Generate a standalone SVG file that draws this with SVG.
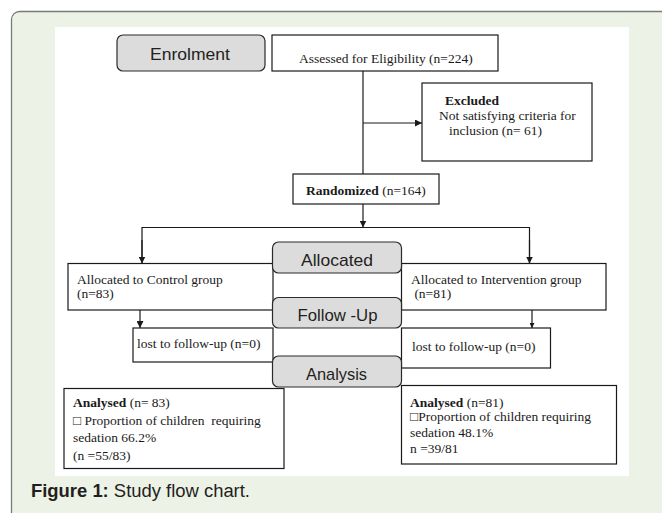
<svg xmlns="http://www.w3.org/2000/svg" width="662" height="513" viewBox="0 0 662 513">
<defs>
<marker id="ah" viewBox="0 0 10 10" refX="10" refY="5" markerWidth="7" markerHeight="7" markerUnits="userSpaceOnUse" orient="auto">
<path d="M0,0 L10,5 L0,10 Z" fill="#1a1a1a"/>
</marker>
<marker id="ahs" viewBox="0 0 10 10" refX="10" refY="5" markerWidth="5" markerHeight="5" markerUnits="userSpaceOnUse" orient="auto">
<path d="M0,0 L10,5 L0,10 Z" fill="#1a1a1a"/>
</marker>
<style>
.box{fill:#ffffff;stroke:#1a1a1a;stroke-width:1.2}
.stage{fill:#dcdcdc;stroke:#2a2a2a;stroke-width:1.2}
.t{font-family:"Liberation Serif","Times New Roman",serif;font-size:13.5px;fill:#1a1a1a;white-space:pre}
.b{font-weight:bold}
.s{font-family:"Liberation Sans",Arial,sans-serif;font-size:17px;fill:#231f20;text-anchor:middle}
.ln{fill:none;stroke:#1a1a1a;stroke-width:1.2}
.cap{font-family:"Liberation Sans",Arial,sans-serif;font-size:18px;fill:#231f20}
</style>
</defs>
<rect x="11.5" y="11.5" width="700" height="560" rx="8" fill="#edf2e7" stroke="#7a7a7a" stroke-width="1.3"/>
<rect x="55" y="27" width="574" height="449" fill="#ffffff"/>

<g id="connectors">
<line class="ln" x1="363" y1="71" x2="363" y2="174"/>
<line class="ln" x1="363" y1="123" x2="422" y2="123" marker-end="url(#ah)"/>
<line class="ln" x1="363" y1="204" x2="363" y2="227.5" marker-end="url(#ah)"/>
<polyline class="ln" points="142,262.5 142,227.5 529.5,227.5 529.5,263.5" />
<line class="ln" x1="142" y1="240" x2="142" y2="263.5" marker-end="url(#ah)"/>
<line class="ln" x1="529.5" y1="240" x2="529.5" y2="263.5" marker-end="url(#ah)"/>
<line class="ln" x1="140" y1="310" x2="140" y2="328" marker-end="url(#ah)"/>
<line class="ln" x1="532" y1="310" x2="532" y2="328" stroke-width="1" marker-end="url(#ahs)"/>
</g>

<g id="enrolment">
<rect class="stage" x="117" y="35" width="148" height="36" rx="6"/>
<text class="s" x="190" y="60" textLength="80" lengthAdjust="spacingAndGlyphs">Enrolment</text>
</g>
<g id="assessed">
<rect class="box" x="272" y="35" width="226" height="36"/>
<text class="t" x="299" y="63">Assessed for Eligibility (n=224)</text>
</g>
<g id="excluded">
<rect class="box" x="422" y="83" width="170" height="78"/>
<text class="t b" x="445" y="105">Excluded</text>
<text class="t" x="439" y="120">Not satisfying criteria for</text>
<text class="t" x="449" y="135">inclusion (n= 61)</text>
</g>
<g id="randomized">
<rect class="box" x="293" y="174" width="146" height="30"/>
<text class="t" x="306" y="195"><tspan class="b">Randomized</tspan> (n=164)</text>
</g>
<g id="control">
<rect class="box" x="68" y="263.5" width="205" height="46.5"/>
<text class="t" x="77" y="284">Allocated to Control group</text>
<text class="t" x="77" y="298">(n=83)</text>
</g>
<g id="intervention">
<rect class="box" x="401.5" y="263.5" width="204.5" height="46.5"/>
<text class="t" x="411" y="284">Allocated to Intervention group</text>
<text class="t" x="411" y="298"> (n=81)</text>
</g>
<g id="lost-control">
<rect class="box" x="133" y="328" width="140" height="34"/>
<text class="t" x="137" y="348">lost to follow-up (n=0)</text>
</g>
<g id="lost-intervention">
<rect class="box" x="401.5" y="328" width="149" height="40"/>
<text class="t" x="412" y="351">lost to follow-up (n=0)</text>
</g>
<g id="analysed-control">
<rect class="box" x="64" y="388.5" width="220" height="80"/>
<text class="t" x="73" y="407"><tspan class="b">Analysed</tspan> (n= 83)</text>
<text class="t" x="73" y="425">□ Proportion of children  requiring</text>
<text class="t" x="73" y="442">sedation 66.2%</text>
<text class="t" x="73" y="460">(n =55/83)</text>
</g>
<g id="analysed-intervention">
<rect class="box" x="401.5" y="385.5" width="215" height="78.5"/>
<text class="t" x="410" y="407"><tspan class="b">Analysed</tspan> (n=81)</text>
<text class="t" x="410" y="421">□Proportion of children requiring</text>
<text class="t" x="410" y="437">sedation 48.1%</text>
<text class="t" x="410" y="453">n =39/81</text>
</g>
<g id="allocated">
<rect class="stage" x="272.5" y="242" width="129" height="31" rx="6"/>
<text class="s" x="337" y="266" textLength="72" lengthAdjust="spacingAndGlyphs">Allocated</text>
</g>
<g id="follow-up">
<rect class="stage" x="272.5" y="297.5" width="129" height="30.5" rx="6"/>
<text class="s" x="337.5" y="320.5" textLength="80" lengthAdjust="spacingAndGlyphs">Follow -Up</text>
</g>
<g id="analysis">
<rect class="stage" x="272.5" y="356" width="129" height="31" rx="6"/>
<text class="s" x="336.5" y="380" textLength="61" lengthAdjust="spacingAndGlyphs">Analysis</text>
</g>
<text class="cap" x="31" y="497" textLength="219" lengthAdjust="spacingAndGlyphs"><tspan font-weight="bold">Figure 1:</tspan> Study flow chart.</text>
</svg>
